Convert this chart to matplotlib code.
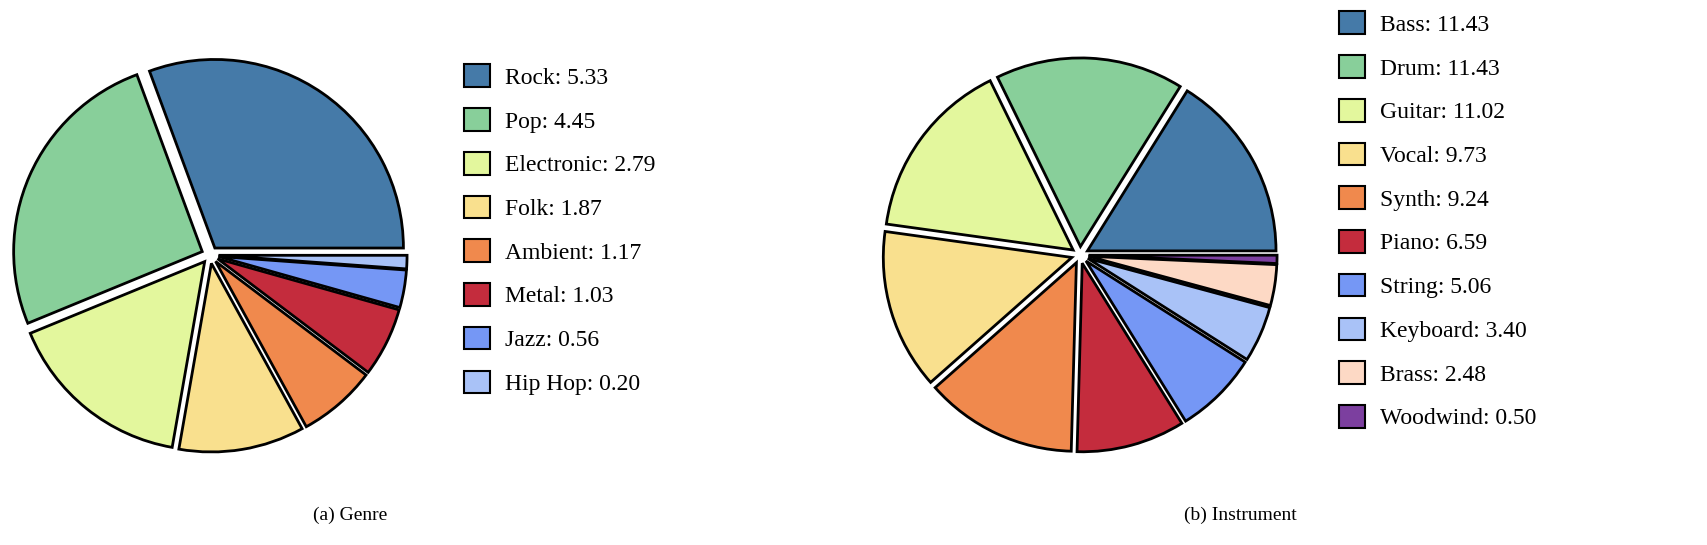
import matplotlib.pyplot as plt

plt.rcParams['font.family'] = ['Liberation Serif', 'DejaVu Serif']

genre_labels = ["Rock", "Pop", "Electronic", "Folk", "Ambient", "Metal", "Jazz", "Hip Hop"]
genre_values = [5.33, 4.45, 2.79, 1.87, 1.17, 1.03, 0.56, 0.20]
genre_colors = ["#457aa8", "#88cf9a", "#e3f79d", "#f9e08e", "#f0894d", "#c42c3d", "#7597f5", "#a9c2f7"]

inst_labels = ["Bass", "Drum", "Guitar", "Vocal", "Synth", "Piano", "String", "Keyboard", "Brass", "Woodwind"]
inst_values = [11.43, 11.43, 11.02, 9.73, 9.24, 6.59, 5.06, 3.40, 2.48, 0.50]
inst_colors = ["#457aa8", "#88cf9a", "#e3f79d", "#f9e08e", "#f0894d", "#c42c3d", "#7597f5", "#a9c2f7",
               "#fdd9c5", "#7c3f9f"]

W, H = 1708, 545
fig = plt.figure(figsize=(W / 100, H / 100), dpi=100)


def draw(cx, cy, r, labels, values, colors, lx, ly, caption, capx):
    ax = fig.add_axes([(cx - r) / W, (H - cy - r) / H, 2 * r / W, 2 * r / H])
    wedges, _ = ax.pie(values, colors=colors, startangle=0, counterclock=True,
                       explode=[0.045] * len(values), radius=1.0,
                       wedgeprops=dict(edgecolor="black", linewidth=2.0))
    ax.set_xlim(-1.05, 1.05)
    ax.set_ylim(-1.05, 1.05)
    ax.set_aspect("equal")
    handles = wedges
    texts = [f"{l}: {v:.2f}" for l, v in zip(labels, values)]
    leg = fig.legend(handles, texts, loc="upper left", bbox_to_anchor=(lx / W, 1 - ly / H),
                     frameon=False, fontsize=17, handlelength=1.1, handleheight=1.1,
                     labelspacing=0.82, handletextpad=0.6, borderaxespad=0)
    for h in leg.legend_handles:
        h.set_linewidth(1.5)
    fig.text(capx / W, 1 - 515 / H, caption, ha="center", va="center", fontsize=14)


draw(210, 255, 198, genre_labels, genre_values, genre_colors, 455, 55, "(a) Genre", 350)
draw(1080, 255, 198, inst_labels, inst_values, inst_colors, 1330, 2, "(b) Instrument", 1240)

fig.savefig("out.png", dpi=100)
